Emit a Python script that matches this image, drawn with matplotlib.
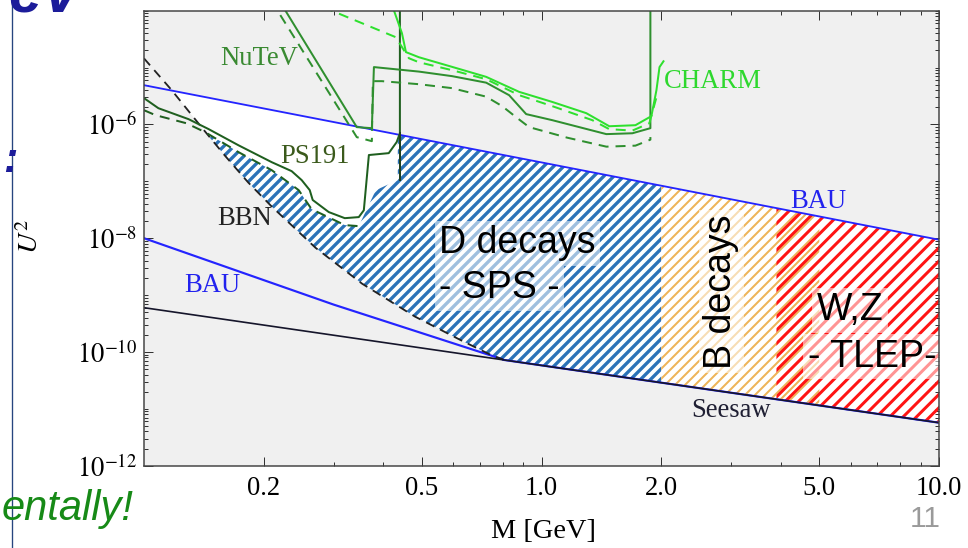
import numpy as np
import matplotlib
matplotlib.use("Agg")
import matplotlib.pyplot as plt
from matplotlib.patches import Polygon
from matplotlib.lines import Line2D
from matplotlib.ticker import FixedLocator, FixedFormatter, LogLocator, NullFormatter

plt.rcParams['font.family'] = ['Liberation Serif', 'DejaVu Serif']
plt.rcParams['mathtext.fontset'] = 'stix'

# ---------------- data (M in GeV, U^2) ----------------
M_range = [0.1, 10.0]
U2_range = [1e-12, 1e-4]

x_ticks = [0.2, 0.5, 1.0, 2.0, 5.0, 10.0]
x_tick_labels = ['0.2', '0.5', '1.0', '2.0', '5.0', '10.0']
y_ticks = [1e-12, 1e-10, 1e-8, 1e-6]
y_tick_labels = [r'$10^{-12}$', r'$10^{-10}$', r'$10^{-8}$', r'$10^{-6}$']

bau_hi_M = [0.1, 1.0, 10.0]
bau_hi_U2 = [4.9e-6, 2.15e-7, 9.4e-9]

seesaw_M = [0.1, 1.0, 10.0]
seesaw_U2 = [6.0e-10, 5.8e-11, 5.7e-12]

bau_lo_M = [0.1, 0.3, 0.8]
bau_lo_U2 = [1.0e-8, 6.8e-10, 7.4e-11]

bbn_M = [0.1, 0.1175, 0.14, 0.16, 0.183, 0.21, 0.24, 0.27, 0.354, 0.48, 0.63, 0.75, 0.80]
bbn_U2 = [1.45e-5, 3.98e-6, 8.7e-7, 2.8e-7, 9.5e-8, 3.55e-8, 1.48e-8, 6.8e-9,
          1.58e-9, 4.2e-10, 1.58e-10, 8.7e-11, 7.4e-11]

ps191_M = [0.1, 0.1087, 0.1294, 0.1453, 0.1729, 0.2096, 0.2352, 0.2493, 0.2612, 0.2657,
           0.2916, 0.320, 0.347, 0.3573, 0.3679, 0.4128, 0.4322, 0.4403, 0.4403]
ps191_U2 = [2.9e-6, 1.93e-6, 1.24e-6, 8.3e-7, 4.3e-7, 2.17e-7, 1.51e-7, 1.05e-7, 7.0e-8, 4.7e-8,
            2.88e-8, 2.25e-8, 2.35e-8, 3.1e-8, 2.9e-7, 3.13e-7, 4.9e-7, 7.0e-7, 2e-4]

ps191_dash_M = [0.1, 0.1068, 0.1278, 0.1426, 0.1729, 0.2096, 0.245, 0.264, 0.320, 0.347]
ps191_dash_U2 = [1.78e-6, 1.46e-6, 1.05e-6, 7.3e-7, 3.26e-7, 1.57e-7, 7.0e-8, 3.24e-8, 1.7e-8, 1.63e-8]

ps191_edge_M = [0.4403, 0.4403]
ps191_edge_U2 = [1.05e-7, 7.0e-7]

hatch_top_M = [0.1426, 0.1729, 0.2096, 0.245, 0.264, 0.320, 0.347, 0.383, 0.435, 0.435]
hatch_top_U2 = [7.3e-7, 3.26e-7, 1.57e-7, 7.0e-8, 3.24e-8, 1.7e-8, 1.63e-8, 7.0e-8, 1.05e-7, 6.7e-7]

nutev_M = [0.219, 0.343, 0.3743, 0.3788, 0.4916, 0.5955, 0.7257, 0.829, 0.915, 1.064,
           1.456, 1.693, 1.879, 1.879]
nutev_U2 = [1.5e-4, 8.97e-7, 8.6e-7, 1.02e-5, 8.5e-6, 7.07e-6, 5.43e-6, 3.27e-6, 1.52e-6,
            1.19e-6, 6.76e-7, 7.0e-7, 8.6e-7, 1.5e-4]

nutev_dash_M = [0.209, 0.343, 0.3743, 0.3765, 0.3967, 0.4916, 0.5955, 0.7257, 0.796, 0.8634,
                0.931, 1.160, 1.456, 1.723, 1.879, 1.879]
nutev_dash_U2 = [1.5e-4, 5.98e-7, 5.08e-7, 5.77e-6, 5.77e-6, 5.1e-6, 4.35e-6, 3.08e-6, 2.1e-6,
                 1.34e-6, 8.97e-7, 5.86e-7, 4.07e-7, 4.24e-7, 5.4e-7, 6.0e-7]

charm_M = [0.417, 0.4455, 0.456, 0.4916, 0.5955, 0.7257, 0.8786, 1.064, 1.296, 1.481,
           1.723, 1.89, 1.946, 1.981, 2.027]
charm_U2 = [1.5e-4, 4.03e-5, 1.87e-5, 1.52e-5, 1.03e-5, 6.87e-6, 3.74e-6, 2.49e-6, 1.58e-6,
            9.3e-7, 9.7e-7, 1.40e-6, 4.0e-6, 1.02e-5, 1.29e-5]

charm_dash_M = [0.258, 0.430, 0.4639, 0.4916, 0.5955, 0.7257, 0.8786, 1.064, 1.342, 1.481,
                1.693, 1.868, 1.946]
charm_dash_U2 = [1.5e-4, 3.42e-5, 1.46e-5, 1.24e-5, 9.0e-6, 6.25e-6, 3.27e-6, 2.1e-6, 1.19e-6,
                 8.26e-7, 7.8e-7, 1.05e-6, 3.0e-6]

d_band_end = 2.0
b_band_M = [2.0, 5.0]
wz_band_M = [3.9, 10.0]

# ---------------- figure ----------------
DPI = 120
W, H = 969, 548
fig = plt.figure(figsize=(W / DPI, H / DPI), dpi=DPI)
ax = fig.add_axes([144 / W, 1 - 465.7 / H, 795 / W, 455 / H])
ax.set_facecolor('#f0f0f0')
ax.set_xscale('log')
ax.set_yscale('log')
ax.set_xlim(M_range)
ax.set_ylim(U2_range)


def lg(Mq, M, U):
    return 10 ** np.interp(np.log10(Mq), np.log10(M), np.log10(U))


grid = np.logspace(np.log10(M_range[0]), np.log10(M_range[1]), 2000)
bau_hi_g = lg(grid, bau_hi_M, bau_hi_U2)
seesaw_g = lg(grid, seesaw_M, seesaw_U2)
bbn_g = lg(grid, bbn_M, bbn_U2)
lower_g = np.where(grid <= bbn_M[-1], np.maximum(bbn_g, seesaw_g), seesaw_g)

# white allowed region
ax.fill_between(grid, lower_g, bau_hi_g, where=bau_hi_g > lower_g, interpolate=True,
                facecolor='white', edgecolor='none', lw=0, zorder=1)


def hatch_poly(verts, color, hatch, hlw, z):
    plt.rcParams['hatch.linewidth'] = hlw
    p = Polygon(verts, closed=True, facecolor='none', edgecolor=color, lw=0,
                hatch=hatch, zorder=z)
    if hasattr(p, 'set_hatch_linewidth'):
        p.set_hatch_linewidth(hlw)
    ax.add_patch(p)
    return p


# D decays (blue) band
m1 = grid[(grid > hatch_top_M[-1]) & (grid < d_band_end)]
top_x = list(hatch_top_M) + list(m1) + [d_band_end]
top_y = list(hatch_top_U2) + list(lg(m1, bau_hi_M, bau_hi_U2)) + [float(lg(d_band_end, bau_hi_M, bau_hi_U2))]
m2 = grid[(grid > bbn_M[-1]) & (grid < d_band_end)][::-1]
bot_x = [d_band_end] + list(m2)
bot_y = [float(lg(d_band_end, seesaw_M, seesaw_U2))] + list(lg(m2, seesaw_M, seesaw_U2))
bb = [(m, u) for m, u in zip(bbn_M, bbn_U2) if hatch_top_M[0] < m][::-1]
verts = list(zip(top_x, top_y)) + list(zip(bot_x, bot_y)) + bb
hatch_poly(verts, '#2b72b8', '////', 2.0, 2)


def band(a, b):
    mm = grid[(grid > a) & (grid < b)]
    xs = np.concatenate([[a], mm, [b]])
    up = lg(xs, bau_hi_M, bau_hi_U2)
    lo = lg(xs, seesaw_M, seesaw_U2)
    return list(zip(xs, up)) + list(zip(xs[::-1], lo[::-1]))


hatch_poly(band(*b_band_M), '#eeb458', '////', 1.2, 2.1)
hatch_poly(band(*wz_band_M), '#ff1414', '///', 1.8, 2.2)

# ---------------- lines ----------------
ax.plot(bau_hi_M, bau_hi_U2, color='#2424ff', lw=1.1, zorder=4)
lo_x = list(bau_lo_M) + list(grid[grid > bau_lo_M[-1]])
lo_y = list(bau_lo_U2) + list(seesaw_g[grid > bau_lo_M[-1]])
ax.plot(lo_x, lo_y, color='#2424ff', lw=1.3, zorder=4)
ax.plot(seesaw_M, seesaw_U2, color='#15152a', lw=1.0, zorder=4.1)
ax.plot(bbn_M, bbn_U2, color='#222222', lw=1.1, dashes=(5, 3.5), zorder=4)

ax.plot(ps191_M, ps191_U2, color='#1f5f1f', lw=1.2, zorder=4)
ax.plot(ps191_dash_M, ps191_dash_U2, color='#1f5f1f', lw=1.2, dashes=(5, 3.5), zorder=4)
ax.plot(ps191_edge_M, ps191_edge_U2, color='#1f3f1f', lw=1.2, zorder=4)
ax.plot(nutev_M, nutev_U2, color='#2f8f2f', lw=1.2, zorder=4)
ax.plot(nutev_dash_M, nutev_dash_U2, color='#2f8f2f', lw=1.2, dashes=(5, 3.5), zorder=4)
ax.plot(charm_M, charm_U2, color='#2ee02e', lw=1.2, zorder=4)
ax.plot(charm_dash_M, charm_dash_U2, color='#2ee02e', lw=1.2, dashes=(5, 3.5), zorder=4)

# ---------------- labels ----------------
serif_kw = dict(fontsize=16, ha='center', va='baseline', zorder=6)
ax.text(0.1954, 1.10e-5, 'NuTeV', color='#3a8a32', **serif_kw)
ax.text(0.2685, 2.07e-7, 'PS191', color='#3b5a1c', **serif_kw)
ax.text(0.1786, 1.70e-8, 'BBN', color='#222222', **serif_kw)
ax.text(2.694, 4.30e-6, 'CHARM', color='#2ed82e', **serif_kw)
ax.text(4.98, 3.38e-8, 'BAU', color='#2222ee', **serif_kw)
ax.text(0.1482, 1.14e-9, 'BAU', color='#2222ee', **serif_kw)
ax.text(2.99, 7.26e-12, 'Seesaw', color='#1f1f33', **serif_kw)

box = dict(boxstyle='square,pad=0.12', facecolor='white', alpha=0.55, edgecolor='none')
sans_kw = dict(fontsize=22.5, family='Liberation Sans', color='black', va='baseline', zorder=6, bbox=box)
ax.text(0.5523, 5.4e-9, 'D decays', ha='left', **sans_kw)
ax.text(0.5523, 8.75e-10, '- SPS -', ha='left', **sans_kw)
ax.text(4.918, 3.64e-10, 'W,Z', ha='left', **sans_kw)
ax.text(4.676, 5.5e-11, '- TLEP-', ha='left', **sans_kw)
ax.text(2.83, 1.15e-9, 'B decays', ha='center', va='center', rotation=90, fontsize=22.5,
        family='Liberation Sans', color='black', zorder=6, bbox=box)

# ---------------- axes styling ----------------
ax.xaxis.set_major_locator(FixedLocator(x_ticks))
ax.xaxis.set_major_formatter(FixedFormatter(x_tick_labels))
ax.xaxis.set_minor_locator(LogLocator(base=10, subs=np.arange(2, 10), numticks=50))
ax.xaxis.set_minor_formatter(NullFormatter())
ax.yaxis.set_major_locator(FixedLocator(y_ticks))
ax.yaxis.set_major_formatter(FixedFormatter(y_tick_labels))
ax.yaxis.set_minor_locator(LogLocator(base=10, subs=np.arange(1, 10), numticks=50))
ax.yaxis.set_minor_formatter(NullFormatter())
ax.tick_params(which='both', direction='in', top=True, right=True, color='#333333', width=0.6)
ax.tick_params(which='major', length=5.4, labelsize=16)
ax.tick_params(which='minor', length=2.4)
ax.tick_params(axis='x', which='major', pad=6)
ax.tick_params(axis='y', which='major', pad=4)
for s in ax.spines.values():
    s.set_color('#444444')
    s.set_linewidth(0.9)
    s.set_zorder(7)

ax.set_xlabel('M [GeV]', fontsize=17, va='center')
ax.xaxis.set_label_coords(0.502, -0.1457)
ax.set_ylabel(r'$U^2$', fontsize=17, va='center', ha='center')
ax.yaxis.set_label_coords(-0.1421, 0.5026)

# ---------------- slide remnants ----------------
fig.text(8 / W, 1 - 12 / H, 'eV', fontsize=36, fontweight='bold', fontstyle='italic',
         family='Liberation Sans', color='#1c1c9a', ha='left', va='baseline')
fig.text(10 / W, 1 - 172 / H, ':', fontsize=26, fontweight='bold', fontstyle='italic',
         family='Liberation Sans', color='#1c1c9a', ha='center', va='baseline')
fig.add_artist(Line2D([12 / W, 12 / W], [0, 1], transform=fig.transFigure,
                      color='#27457f', lw=0.8))
fig.text(134 / W, 1 - 520 / H, 'entally!', fontsize=25, fontstyle='italic',
         family='Liberation Sans', color='#178a17', ha='right', va='baseline')
fig.text(941 / W, 1 - 527 / H, '11', fontsize=18, family='Liberation Sans',
         color='#9a9a9a', ha='right', va='baseline')

fig.savefig('out.png', dpi=DPI, facecolor='white')
